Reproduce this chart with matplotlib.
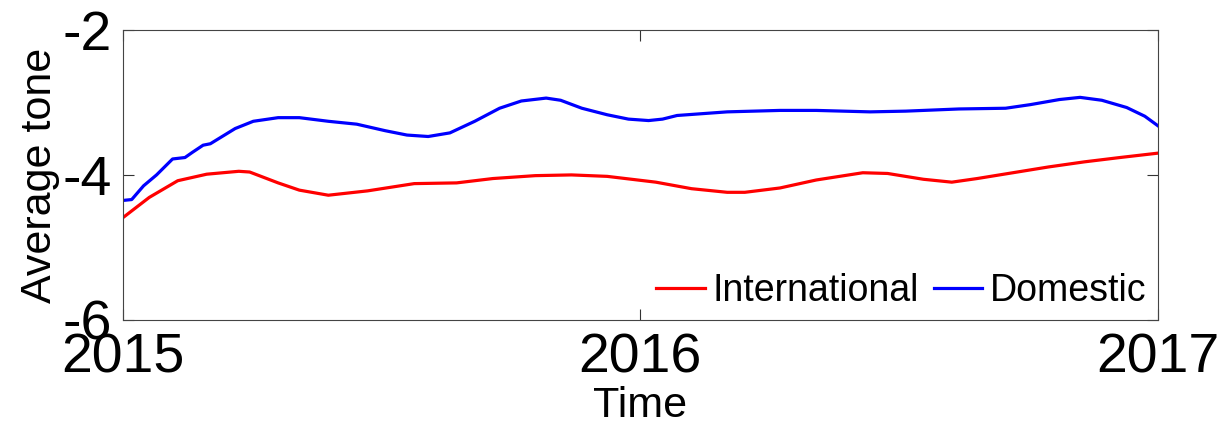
import numpy as np
import matplotlib.pyplot as plt

# time as fraction of years since 2015, tone values
intl_t = [0.0, 0.051, 0.106, 0.162, 0.224, 0.245, 0.30, 0.341, 0.397, 0.473,
          0.563, 0.645, 0.715, 0.797, 0.867, 0.936, 1.03, 1.099, 1.168, 1.202,
          1.27, 1.34, 1.43, 1.478, 1.547, 1.602, 1.651, 1.72, 1.789, 1.858,
          1.927, 2.0]
intl_v = [-4.59, -4.31, -4.08, -3.99, -3.95, -3.96, -4.11, -4.21, -4.28, -4.22,
          -4.12, -4.11, -4.05, -4.01, -4.00, -4.02, -4.10, -4.19, -4.24, -4.24,
          -4.18, -4.07, -3.97, -3.98, -4.06, -4.10, -4.05, -3.97, -3.89, -3.82,
          -3.76, -3.70]

dom_t = [0.003, 0.017, 0.04, 0.065, 0.096, 0.12, 0.134, 0.155, 0.169, 0.217,
         0.252, 0.30, 0.341, 0.397, 0.452, 0.507, 0.549, 0.59, 0.632, 0.68,
         0.728, 0.77, 0.818, 0.846, 0.887, 0.936, 0.977, 1.016, 1.043, 1.071,
         1.168, 1.27, 1.34, 1.444, 1.513, 1.616, 1.706, 1.754, 1.81, 1.85,
         1.892, 1.94, 1.975, 2.0]
dom_v = [-4.35, -4.34, -4.15, -4.00, -3.78, -3.76, -3.69, -3.59, -3.57, -3.36,
         -3.26, -3.21, -3.21, -3.26, -3.30, -3.39, -3.45, -3.47, -3.42, -3.26,
         -3.08, -2.98, -2.94, -2.97, -3.08, -3.17, -3.23, -3.25, -3.23, -3.18,
         -3.13, -3.11, -3.11, -3.13, -3.12, -3.09, -3.08, -3.03, -2.96, -2.93,
         -2.97, -3.07, -3.19, -3.32]

xticks = [2015, 2016, 2017]
yticks = [-6, -4, -2]
ytick_labels = ['-6', '-4', '-2']

plt.rcParams['font.family'] = ['Liberation Sans', 'DejaVu Sans']

fig = plt.figure(figsize=(12.29, 4.22), dpi=100)
ax = fig.add_axes([0.1, 0.242, 0.842, 0.687])

ax.plot(2015 + np.array(intl_t), intl_v, color='#ff0000', lw=2.3, label='International')
ax.plot(2015 + np.array(dom_t), dom_v, color='#0000ff', lw=2.3, label='Domestic')

ax.set_xlim(2015, 2017)
ax.set_ylim(-6, -2)
ax.set_xticks(xticks)
ax.set_xticklabels([str(x) for x in xticks])
ax.set_yticks(yticks)
ax.set_yticklabels(ytick_labels)
ax.tick_params(direction='in', length=8, width=0.8, labelsize=40,
               top=True, right=True, colors='#333333', labelcolor='black')
ax.tick_params(axis='x', pad=9)
ax.tick_params(axis='y', pad=8)
for s in ax.spines.values():
    s.set_color('#444444')
    s.set_linewidth(0.8)

ax.set_xlabel('Time', fontsize=31, labelpad=1)
ax.set_ylabel('Average tone', fontsize=31, labelpad=2)

ax.legend(loc='lower right', ncol=2, frameon=False, fontsize=27,
          handlelength=1.3, handletextpad=0.2, columnspacing=0.4,
          borderaxespad=0.1, borderpad=0.2)

fig.savefig('out.png', dpi=100)
